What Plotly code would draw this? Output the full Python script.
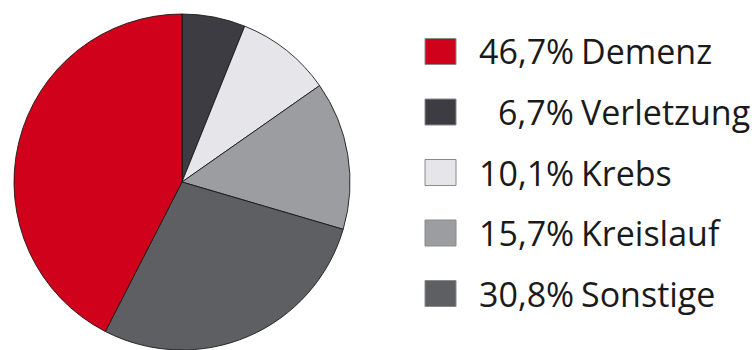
import plotly.graph_objects as go

# Todesursachen – Anteile in Prozent (Legendenreihenfolge)
categories = ["Demenz", "Verletzung", "Krebs", "Kreislauf", "Sonstige"]
shares = [46.7, 6.7, 10.1, 15.7, 30.8]
colors = ["#D0021B", "#3D3C42", "#E6E5EA", "#9C9DA0", "#5E5F63"]

# Kreisreihenfolge im Uhrzeigersinn ab 12 Uhr
pie_order = ["Verletzung", "Krebs", "Kreislauf", "Sonstige", "Demenz"]
idx = [categories.index(c) for c in pie_order]

W, H = 754, 350

fig = go.Figure()
fig.add_trace(go.Pie(
    labels=[categories[i] for i in idx],
    values=[shares[i] for i in idx],
    marker=dict(colors=[colors[i] for i in idx],
                line=dict(color="rgba(20,20,20,0.85)", width=1)),
    sort=False,
    direction="clockwise",
    rotation=0,
    textinfo="none",
    hoverinfo="label+percent",
    showlegend=False,
    domain=dict(x=[13 / W, 351 / W], y=[0, 1 - 14 / H]),
))

# Eigene Legende: Farbfeld, rechtsbündiger Prozentwert, Bezeichnung
font = dict(family="Open Sans, Liberation Sans, sans-serif", size=34, color="#1a1a1a")
row0, step = 51.5, 60.5
shapes, annotations = [], []
for i, (cat, val, col) in enumerate(zip(categories, shares, colors)):
    yc = row0 + i * step
    shapes.append(dict(
        type="rect", xref="paper", yref="paper",
        x0=425 / W, x1=456 / W,
        y0=1 - (yc + 13) / H, y1=1 - (yc - 13) / H,
        fillcolor=col, line=dict(color="#8a8a8a", width=1),
    ))
    pct = f"{val:.1f}".replace(".", ",") + "%"
    annotations.append(dict(
        xref="paper", yref="paper", x=576 / W, y=1 - yc / H,
        xanchor="right", yanchor="middle", text=pct, showarrow=False, font=font,
    ))
    annotations.append(dict(
        xref="paper", yref="paper", x=579 / W, y=1 - yc / H,
        xanchor="left", yanchor="middle", text=cat, showarrow=False, font=font,
    ))

fig.update_layout(
    width=W, height=H,
    margin=dict(l=0, r=0, t=0, b=0),
    paper_bgcolor="white", plot_bgcolor="white",
    shapes=shapes, annotations=annotations,
)

fig.write_html("out.html")
